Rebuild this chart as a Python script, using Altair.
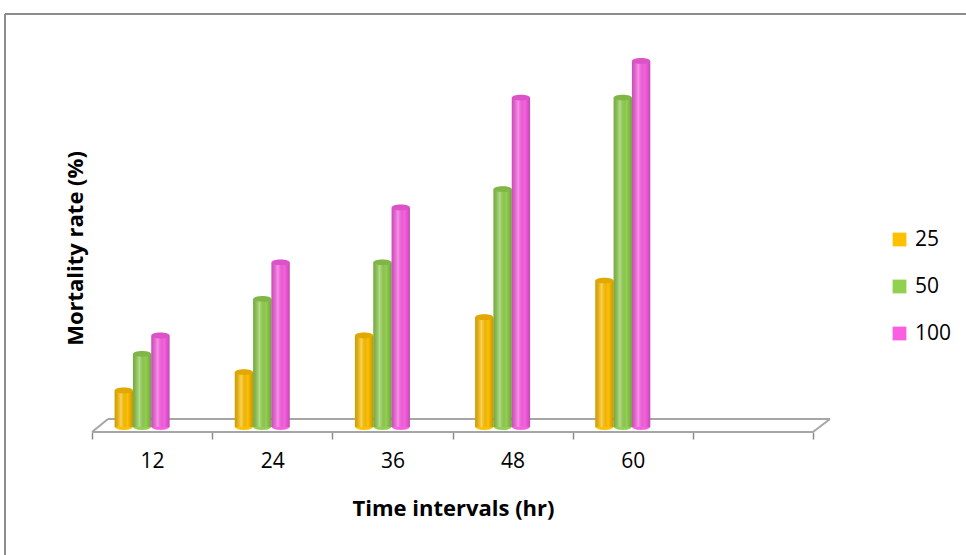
import altair as alt
import pandas as pd

# ---- data ----
times = ["12", "24", "36", "48", "60"]
slots = ["12", "24", "36", "48", "60", ""]
concs = ["25", "50", "100"]
rate_25 = [10, 15, 25, 30, 40]
rate_50 = [20, 35, 45, 65, 90]
rate_100 = [25, 45, 60, 90, 100]
colors = ["#FFC000", "#92D050", "#FA5FE2"]

rows = []
for c, vals in zip(concs, [rate_25, rate_50, rate_100]):
    for t, v in zip(times, vals):
        rows.append({"time": t, "conc": c, "rate": v, "base": 0})
df = pd.DataFrame(rows)
one = pd.DataFrame({"a": [0]})

FONT = "Open Sans"
W, H = 721, 366

x_enc = alt.X(
    "time:N",
    scale=alt.Scale(domain=slots, paddingInner=0, paddingOuter=0),
    axis=alt.Axis(
        title="Time intervals (hr)", labelAngle=0, labelFont=FONT, labelFontSize=21,
        labelColor="#000000", tickBand="extent",
        tickSize=7, tickColor="#8c8c8c", tickWidth=1.5, domain=False, grid=False,
        offset=5, labelPadding=11, titleFont=FONT, titleFontSize=22,
        titleFontWeight="bold", titleColor="#000000", titleX=361, titleY=76,
        titleAlign="center", titleBaseline="middle",
    ),
)
y_axis = alt.Axis(
    title="Mortality rate (%)", labels=False, ticks=False, domain=False, grid=False,
    titleFont=FONT, titleFontSize=22, titleFontWeight="bold", titleColor="#000000",
    titleX=-17, titleY=187, titleAngle=270, titleAlign="center", titleBaseline="middle",
)
y_scale = alt.Scale(domain=[0, 100], nice=False)
xoff = alt.XOffset("conc:N", sort=concs,
                   scale=alt.Scale(domain=concs, range=[22.6, 77.6], paddingInner=0, paddingOuter=0))
col_scale = alt.Scale(domain=concs, range=colors)

ELL = "M-1,0A1,0.32,0,1,1,1,0A1,0.32,0,1,1,-1,0Z"

# outer frame
frame_left = alt.Chart(one).mark_rule(color="#8c8c8c", strokeWidth=2).encode(
    x=alt.value(-87), y=alt.value(-47), y2=alt.value(520))
frame_top = alt.Chart(one).mark_rule(color="#8c8c8c", strokeWidth=2).encode(
    x=alt.value(-87), x2=alt.value(900), y=alt.value(-47))

# 3D floor
fl = dict(color="#a6a6a6", strokeWidth=2)
floor_front = alt.Chart(one).mark_rule(**fl).encode(x=alt.value(0), x2=alt.value(721), y=alt.value(371))
floor_back = alt.Chart(one).mark_rule(**fl).encode(x=alt.value(16), x2=alt.value(738), y=alt.value(358))
floor_l = alt.Chart(one).mark_rule(**fl).encode(x=alt.value(0), x2=alt.value(16), y=alt.value(371), y2=alt.value(358))
floor_r = alt.Chart(one).mark_rule(**fl).encode(x=alt.value(721), x2=alt.value(738), y=alt.value(371), y2=alt.value(358))

base = alt.Chart(df)

bottom_ell = base.mark_point(shape=ELL, filled=True, size=324, opacity=1).encode(
    x=x_enc, xOffset=xoff, y=alt.Y("base:Q", scale=y_scale, axis=y_axis),
    color=alt.Color("conc:N", scale=col_scale, legend=None))

bars = base.mark_bar().encode(
    x=x_enc, xOffset=xoff, y=alt.Y("rate:Q", scale=y_scale, axis=y_axis),
    color=alt.Color("conc:N", scale=col_scale, sort=concs, legend=alt.Legend(
        title=None, orient="none", legendX=797, legendY=168, symbolType="square",
        symbolSize=190, symbolStrokeWidth=0, labelFont=FONT, labelFontSize=21,
        labelColor="#000000", rowPadding=25, labelOffset=5, symbolOpacity=1)))

shade = base.mark_bar(fill=alt.Gradient(
    gradient="linear", x1=0, x2=1, y1=0, y2=0,
    stops=[alt.GradientStop(offset=0, color="rgba(0,0,0,0.18)"),
           alt.GradientStop(offset=0.35, color="rgba(255,255,255,0.30)"),
           alt.GradientStop(offset=0.7, color="rgba(0,0,0,0.0)"),
           alt.GradientStop(offset=1, color="rgba(0,0,0,0.22)")])).encode(
    x=x_enc, xOffset=xoff, y=alt.Y("rate:Q", scale=y_scale, axis=y_axis))

top_ell = base.mark_point(shape=ELL, filled=True, size=324, opacity=1).encode(
    x=x_enc, xOffset=xoff, y=alt.Y("rate:Q", scale=y_scale, axis=y_axis),
    color=alt.Color("conc:N", scale=col_scale, legend=None))
top_shade = base.mark_point(shape=ELL, filled=True, size=324, opacity=0.12, color="#000000").encode(
    x=x_enc, xOffset=xoff, y=alt.Y("rate:Q", scale=y_scale, axis=y_axis))

chart = alt.layer(
    frame_left, frame_top, floor_back, floor_front, floor_l, floor_r,
    bottom_ell, bars, shade, top_ell, top_shade,
).properties(
    width=W, height=H,
    autosize=alt.AutoSizeParams(type="none"),
    padding={"left": 92, "top": 61, "right": 153, "bottom": 128},
).configure_view(stroke=None).resolve_legend(color="independent")

chart.save("out.html", embed_options={"renderer": "svg", "actions": False})
